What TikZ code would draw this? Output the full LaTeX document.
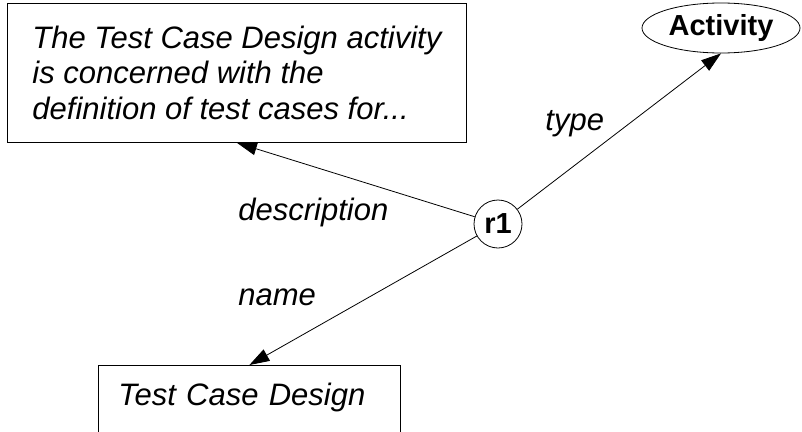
\documentclass[tikz,border=0pt]{standalone}
\usepackage{fontspec}
\setmainfont{Liberation Sans}
\usetikzlibrary{arrows.meta}
\usetikzlibrary{positioning}
\usetikzlibrary{shapes.geometric}

\begin{document}
\begin{tikzpicture}[x=1pt,y=-1pt,line width=0.8pt,
  every node/.style={font=\fontsize{31}{35.5}\selectfont},
  lit/.style={draw,rectangle,anchor=north west,align=left,font=\fontsize{31}{35.5}\selectfont\itshape},
  res/.style={draw,circle,inner sep=0pt,minimum size=48pt,font=\fontsize{29}{29}\selectfont\bfseries},
  cls/.style={draw,ellipse,inner sep=0pt,minimum width=158pt,minimum height=50pt,font=\fontsize{29}{29}\selectfont\bfseries},
  prop/.style={anchor=base west,inner sep=0pt,font=\fontsize{31}{35.5}\selectfont\itshape},
  edge/.style={-{Triangle[length=20pt,width=13pt]}}]
  \useasboundingbox (0,0) rectangle (802,431);
  \clip (0,0) rectangle (802,431);
  \node (desc) at (7,3)[lit,inner xsep=0pt,minimum width=459pt,minimum height=139pt]{The Test Case Design activity\\is concerned with the\\definition of test cases for...};
  \node (name) at (98,365)[lit,inner xsep=20pt,inner ysep=10pt,text width=262pt,text height=30pt,text depth=100pt]{Test Case Design};
  \node (act) at (721,28)[cls]{Activity};
  \node (r1) at (498,224)[res]{r1};
  \node (ltype) at (545,130)[prop]{type};
  \node (ldesc) at (238,220)[prop]{description};
  \node (lname) at (238,305)[prop]{name};
  \draw[edge](r1)--(act.south);
  \draw[edge](r1)--(desc.south);
  \draw[edge](r1)--(name.north);
\end{tikzpicture}
\end{document}
